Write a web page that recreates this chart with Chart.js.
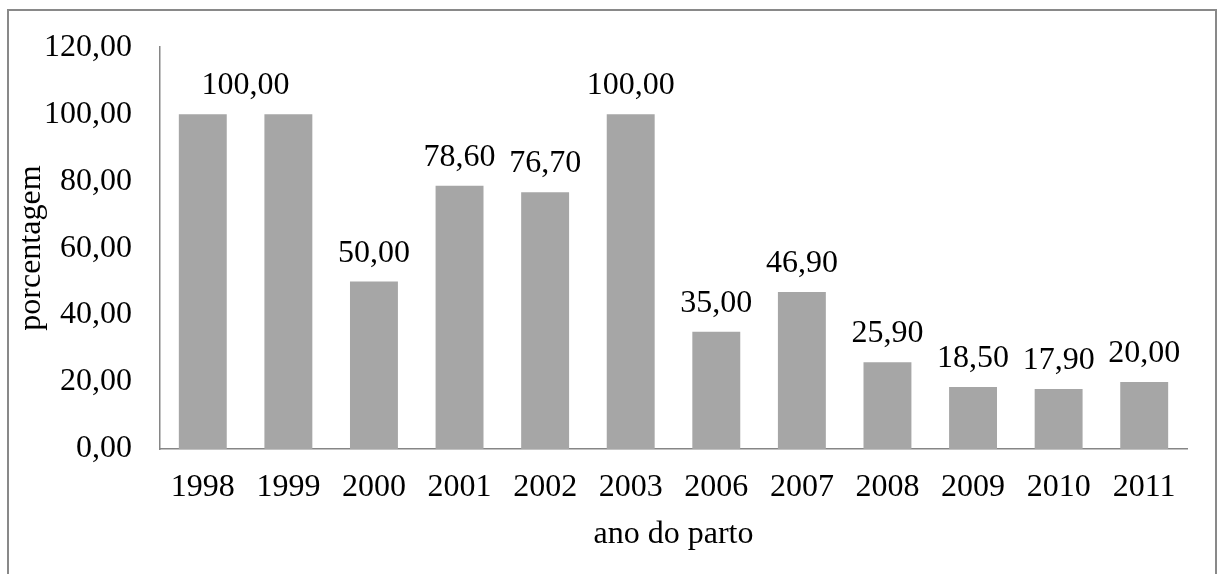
<!DOCTYPE html>
<html>
    <head>
        <meta charset="utf-8">
        <title>ano do parto</title>
        <script src="https://cdn.jsdelivr.net/npm/chart.js@4.4.0/dist/chart.umd.min.js"></script>
        <style>
            body { margin: 0; background: #fff; overflow: hidden; }
            #frame { position: absolute; left: 7px; top: 9px; width: 1206px; height: 600px; border: 2px solid #898989; }
            #chart { position: absolute; left: 0; top: 0; }
        </style>
    </head>
    <body>
        <div id="frame"></div>
        <canvas id="chart" width="1219" height="574"></canvas>
        <script>
        // data
        const anos = ['1998', '1999', '2000', '2001', '2002', '2003', '2006', '2007', '2008', '2009', '2010', '2011'];
        const porcentagem = [100.00, 100.00, 50.00, 78.60, 76.70, 100.00, 35.00, 46.90, 25.90, 18.50, 17.90, 20.00];
        const yTicks = [0, 20, 40, 60, 80, 100, 120];

        const fonte = { family: '"Liberation Serif", "Times New Roman", serif', size: 32 };
        const virgula = v => v.toFixed(2).replace('.', ',');

        // value over each bar; two equal labels that would collide are drawn once, between the bars
        const rotulos = {
            id: 'rotulos',
            afterDatasetsDraw(chart) {
                const ctx = chart.ctx;
                const bars = chart.getDatasetMeta(0).data;
                ctx.save();
                ctx.font = '32px "Liberation Serif", "Times New Roman", serif';
                ctx.fillStyle = '#000';
                ctx.textAlign = 'center';
                ctx.textBaseline = 'alphabetic';
                for (let i = 0; i < bars.length; i++) {
                    const txt = virgula(porcentagem[i]);
                    const w = ctx.measureText(txt).width;
                    let x = bars[i].x, y = bars[i].y;
                    const nxt = bars[i + 1];
                    if (nxt && porcentagem[i + 1] === porcentagem[i] && nxt.x - x < w + 4) {
                        x = (x + nxt.x) / 2;
                        i++;
                    }
                    ctx.fillText(txt, x, y - 20);
                }
                ctx.restore();
            }
        };

        const ctx = document.getElementById('chart').getContext('2d');
        new Chart(ctx, {
            type: 'bar',
            data: {
                labels: anos,
                datasets: [{
                    data: porcentagem,
                    backgroundColor: '#a6a6a6',
                    borderWidth: 0,
                    barPercentage: 0.56,
                    categoryPercentage: 1
                }]
            },
            options: {
                responsive: false,
                animation: false,
                layout: { padding: { left: 0, right: 32, top: 42, bottom: 0 } },
                plugins: { legend: { display: false }, tooltip: { enabled: false } },
                scales: {
                    x: {
                        grid: { display: false, drawTicks: false },
                        border: { display: true, color: '#868686', width: 1.5 },
                        ticks: { font: fonte, color: '#000', padding: 19, maxRotation: 0 },
                        title: { display: true, text: 'ano do parto', font: fonte, color: '#000', padding: { bottom: 20 } },
                        afterFit: s => { s.height = 125; }
                    },
                    y: {
                        min: 0,
                        max: 120,
                        grid: { display: false, drawTicks: false },
                        border: { display: true, color: '#868686', width: 1.5 },
                        afterBuildTicks: s => { s.ticks = yTicks.map(v => ({ value: v })); },
                        ticks: { font: fonte, color: '#000', padding: 28, callback: v => virgula(v) },
                        title: { display: true, text: 'porcentagem', font: fonte, color: '#000', padding: { top: 12 } },
                        afterFit: s => { s.width = 160; }
                    }
                }
            },
            plugins: [rotulos]
        });
        </script>
    </body>
</html>
